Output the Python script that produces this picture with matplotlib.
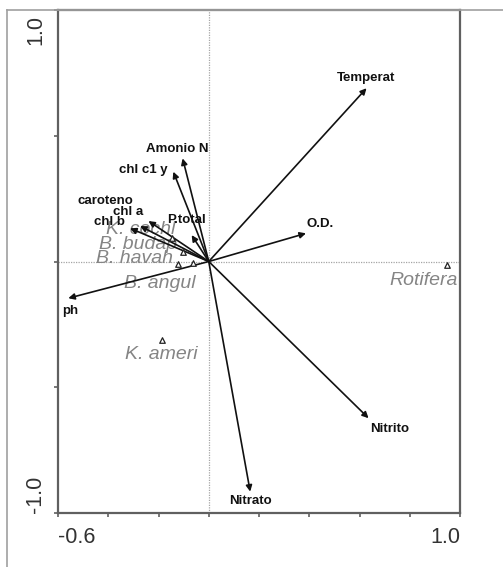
import matplotlib.pyplot as plt
from matplotlib.lines import Line2D

plt.rcParams['font.family'] = ['Liberation Sans', 'DejaVu Sans']

# environmental variables (arrow tips, biplot scores)
env_names = ['Temperat', 'O.D.', 'Nitrito', 'Nitrato', 'Amonio N', 'chl c1 y',
             'caroteno', 'chl a', 'chl b', 'P.total', 'ph']
env_x = [0.628, 0.387, 0.636, 0.165, -0.104, -0.141, -0.273, -0.240, -0.313, -0.068, -0.559]
env_y = [0.689, 0.112, -0.623, -0.915, 0.410, 0.357, 0.141, 0.161, 0.132, 0.105, -0.146]

# species scores
sp_names = ['Rotifera', 'K. ameri', 'B. angul', 'B. havah', 'B. budap', 'K. cochl']
sp_x = [0.947, -0.187, -0.063, -0.122, -0.102, -0.146]
sp_y = [-0.014, -0.312, -0.006, -0.010, 0.038, 0.093]

# label placement (offset in pixels, alignment)
env_lab = [(0, 10, 'center'), (1, 9, 'left'), (2, -11, 'left'), (0, -9, 'center'),
           (-5, 9, 'center'), (-6, 2, 'right'), (-35, 25, 'center'), (-20, 9, 'center'),
           (-21, 6, 'center'), (-5, 15, 'center'), (-6, -13, 'left')]
sp_lab = [(11, -15, 'right'), (0, -15, 'center'), (-33, -20, 'center'),
          (-44, 6, 'center'), (-45, 7, 'center'), (-31, 9, 'center')]

fig = plt.figure(figsize=(5.03, 5.67), dpi=100)
ax = fig.add_axes([58 / 503, 54 / 567, 402 / 503, 503 / 567])
ax.set_xlim(-0.6, 1.0)
ax.set_ylim(-1.0, 1.0)

# outer frame
fig.add_artist(Line2D([7 / 503, 1.0], [557 / 567, 557 / 567], transform=fig.transFigure,
                      color='#a0a0a0', lw=1.2))
fig.add_artist(Line2D([7 / 503, 7 / 503], [0, 557 / 567], transform=fig.transFigure,
                      color='#a0a0a0', lw=1.2))

# zero lines
ax.axhline(0, color='#a5a5a5', lw=0.9, ls=(0, (1, 1)), zorder=1)
ax.axvline(0, color='#a5a5a5', lw=0.9, ls=(0, (1, 1)), zorder=1)

# species labels and triangles
for name, x, y, (dx, dy, ha) in zip(sp_names, sp_x, sp_y, sp_lab):
    ax.annotate(name, (x, y), xytext=(dx, dy), textcoords='offset pixels',
                ha=ha, va='center', fontsize=14, style='italic', color='#858585', zorder=2)
ax.scatter(sp_x, sp_y, marker='^', s=16, facecolor='white', edgecolor='#222222',
           linewidth=0.9, zorder=4)

# environmental arrows
for name, x, y, (dx, dy, ha) in zip(env_names, env_x, env_y, env_lab):
    ax.annotate('', xy=(x, y), xytext=(0, 0),
                arrowprops=dict(arrowstyle='-|>', color='#111111', lw=1.2,
                                mutation_scale=9, shrinkA=0, shrinkB=0), zorder=3)
    ax.annotate(name, (x, y), xytext=(dx, dy), textcoords='offset pixels',
                ha=ha, va='center', fontsize=9.5, fontweight='bold', color='#111111', zorder=5)

# axes styling
for s in ax.spines.values():
    s.set_color('#606060')
    s.set_linewidth(1.6)
ax.set_xticks([-0.6, -0.4, -0.2, 0.0, 0.2, 0.4, 0.6, 0.8, 1.0])
ax.set_yticks([-1.0, -0.5, 0.0, 0.5, 1.0])
ax.set_xticklabels([])
ax.set_yticklabels([])
ax.tick_params(direction='out', length=3, width=1.2, color='#606060',
               top=False, right=False)

tick_kw = dict(fontsize=15.5, color='#333333', transform=ax.transAxes)
ax.text(0.0, -0.028, '-0.6', ha='left', va='top', **tick_kw)
ax.text(1.0, -0.028, '1.0', ha='right', va='top', **tick_kw)
ax.text(-0.03, 0.99, '1.0', ha='right', va='top', rotation=90, **tick_kw)
ax.text(-0.03, 0.0, '-1.0', ha='right', va='bottom', rotation=90, **tick_kw)

fig.savefig('out.png', dpi=100, facecolor='white')
